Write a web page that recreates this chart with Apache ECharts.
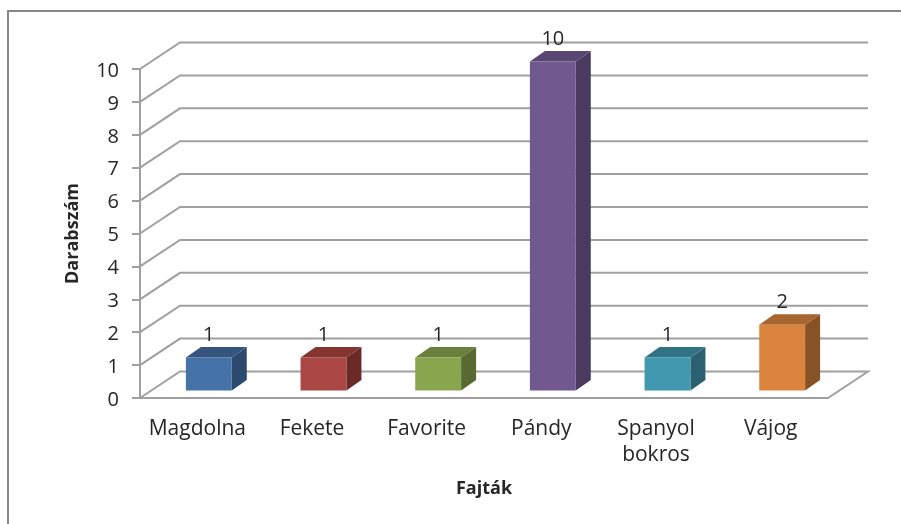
<!DOCTYPE html>
<html>
<head>
<meta charset="utf-8">
<script src="https://cdn.jsdelivr.net/npm/echarts@6/dist/echarts.min.js"></script>
<style>
	html, body { margin: 0; padding: 0; background: #fff; }
	#main { width: 901px; height: 524px; }
</style>
</head>
<body>
<div id="main"></div>
<script>
	var categories = ['Magdolna', 'Fekete', 'Favorite', 'Pándy', 'Spanyol\nbokros', 'Vájog'];
	var values = [1, 1, 1, 10, 1, 2];
	var yTicks = [0, 1, 2, 3, 4, 5, 6, 7, 8, 9, 10];

	var barColors = ['#4572A7', '#AA4643', '#89A54E', '#71588F', '#4198AF', '#DB843D'];
	var barTopColors = ['#35557F', '#84352F', '#6A803C', '#5A4672', '#2F7385', '#A7652F'];
	var barSideColors = ['#2C4A70', '#6B2A27', '#576A32', '#4A3A60', '#2A6070', '#875226'];
	var textColor = '#262626';
	var lineColor = '#a0a0a0';
	var font = '"Open Sans", Lato, sans-serif';

	// 3d look: depth of the floor, and where the bar stands in it
	var depth = [40, -26.5];
	var barDepth = [15, -10.5];
	var barShift = [11.5, -7.5];
	var barRatio = 0.4;

	function renderWall(params, api) {
		var v = api.value(0);
		var band = api.size([1, 0])[0];
		var a = api.coord([0, v]);
		var b = api.coord([categories.length - 1, v]);
		var left = a[0] - band / 2;
		var right = b[0] + band / 2;
		var pts = [[left, a[1]], [left + depth[0], a[1] + depth[1]], [right + depth[0], a[1] + depth[1]]];
		if (v === 0) {
			pts.push([right, a[1]]);
		}
		return {
			type: 'polyline',
			shape: { points: pts },
			style: { stroke: lineColor, lineWidth: 2, fill: null }
		};
	}

	function renderBar(params, api) {
		var i = api.value(0);
		var v = api.value(1);
		var base = api.coord([i, 0]);
		var top = api.coord([i, v]);
		var w = api.size([1, 0])[0] * barRatio;
		var x0 = base[0] + barShift[0] - w / 2;
		var x1 = x0 + w;
		var y0 = base[1] + barShift[1];
		var y1 = top[1] + barShift[1];
		var dx = barDepth[0];
		var dy = barDepth[1];
		return {
			type: 'group',
			children: [
				{ type: 'polygon', shape: { points: [[x1, y0], [x1 + dx, y0 + dy], [x1 + dx, y1 + dy], [x1, y1]] }, style: { fill: barSideColors[i] } },
				{ type: 'polygon', shape: { points: [[x0, y1], [x0 + dx, y1 + dy], [x1 + dx, y1 + dy], [x1, y1]] }, style: { fill: barTopColors[i] } },
				{ type: 'rect', shape: { x: x0, y: y1, width: w, height: y0 - y1 }, style: { fill: barColors[i] } },
				{ type: 'text', style: { text: String(v), x: (x0 + x1) / 2, y: y1 - 22, align: 'center', verticalAlign: 'middle', fill: textColor, font: '20px ' + font } }
			]
		};
	}

	var myChart = echarts.init(document.getElementById('main'), null, { renderer: 'canvas' });
	var option = {
		backgroundColor: '#fff',
		animation: false,
		grid: { left: 140, top: 69, width: 688, height: 329 },
		// outer frame of the pasted chart, open at the right and bottom
		graphic: [{
			type: 'polyline',
			shape: { points: [[8, 524], [8, 11], [901, 11]] },
			style: { stroke: '#868686', lineWidth: 2, fill: null }
		}],
		xAxis: {
			type: 'category',
			data: categories,
			name: 'Fajták',
			nameLocation: 'middle',
			nameGap: 82,
			nameTextStyle: { color: textColor, fontFamily: font, fontSize: 18, fontWeight: 'bold' },
			axisLine: { lineStyle: { color: lineColor, width: 2 } },
			axisTick: { show: false },
			axisLabel: { color: textColor, fontFamily: font, fontSize: 21, lineHeight: 26, margin: 18, interval: 0 }
		},
		yAxis: {
			type: 'value',
			min: 0,
			max: 10,
			interval: 1,
			name: 'Darabszám',
			nameLocation: 'middle',
			nameGap: 58,
			nameTextStyle: { color: textColor, fontFamily: font, fontSize: 18, fontWeight: 'bold' },
			splitLine: { show: false },
			axisLine: { show: true, lineStyle: { color: lineColor, width: 2 } },
			axisTick: { show: true, length: 8, lineStyle: { color: lineColor, width: 2 } },
			axisLabel: {
				margin: 21,
				formatter: '{a|{value}}',
				rich: { a: { color: textColor, fontFamily: font, fontSize: 20, padding: [4, 0, 0, 0] } }
			}
		},
		series: [
			{
				type: 'custom',
				name: 'wall',
				coordinateSystem: 'cartesian2d',
				renderItem: renderWall,
				data: yTicks.map(function (t) { return [t]; }),
				encode: { y: 0 },
				clip: false,
				silent: true,
				z: 1
			},
			{
				type: 'custom',
				name: 'Darabszám',
				coordinateSystem: 'cartesian2d',
				renderItem: renderBar,
				data: values.map(function (v, i) { return [i, v]; }),
				encode: { x: 0, y: 1 },
				clip: false,
				z: 3
			}
		]
	};
	myChart.setOption(option);
</script>
</body>
</html>
